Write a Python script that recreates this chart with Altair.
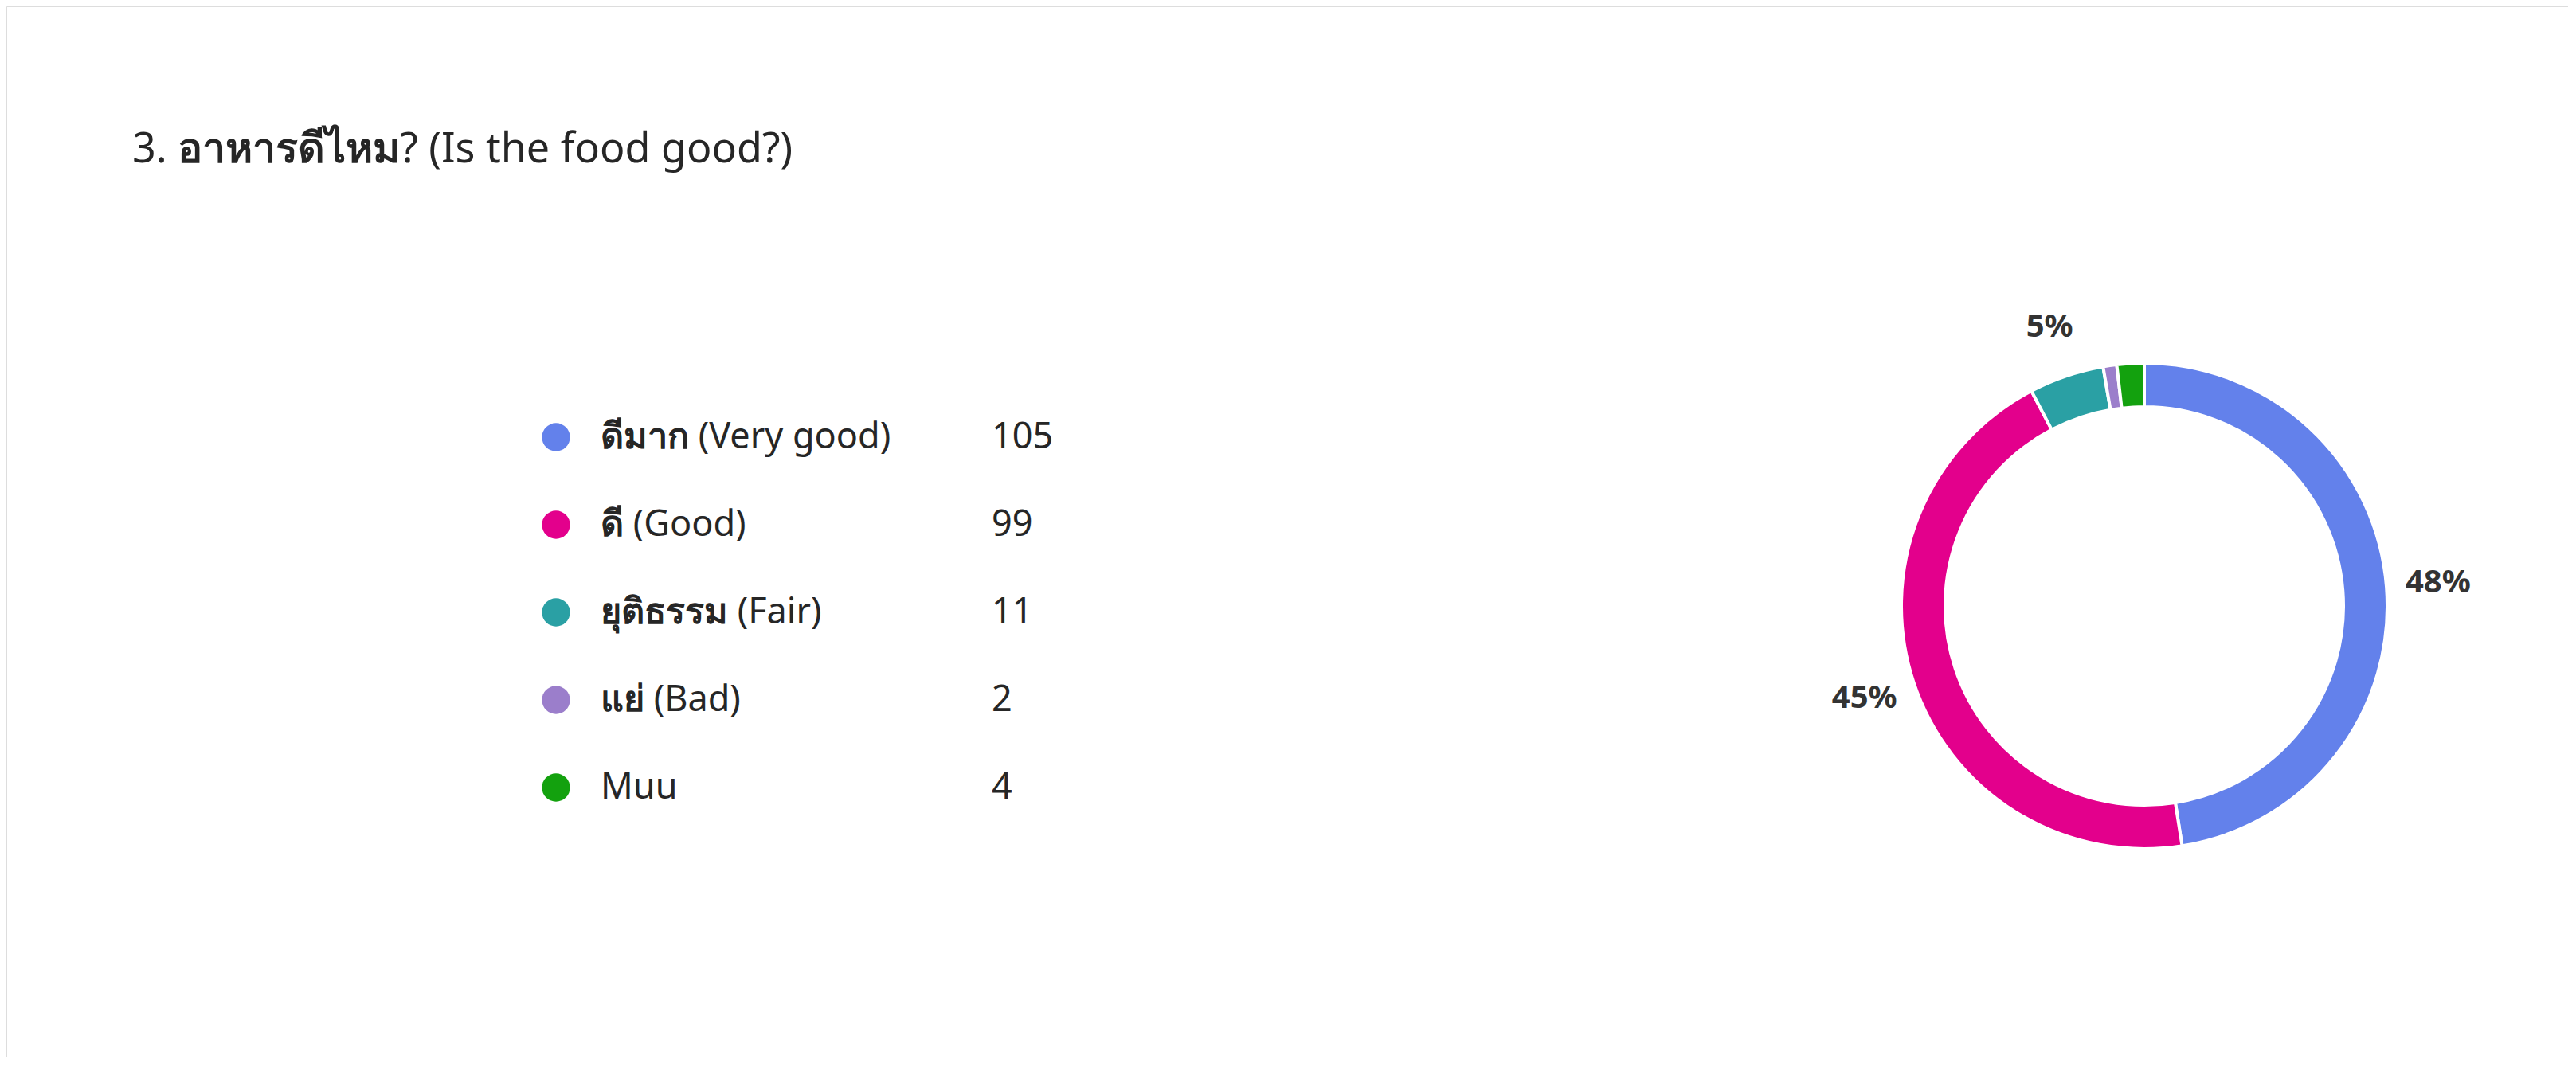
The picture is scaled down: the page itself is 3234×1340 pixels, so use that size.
import altair as alt
import pandas as pd

title_num = "3. "
title_thai = "อาหารดีไหม"
title_rest = "? (Is the food good?)"
thai_names = ["ดีมาก", "ดี", "ยุติธรรม", "แย่", ""]
en_names = ["(Very good)", "(Good)", "(Fair)", "(Bad)", "Muu"]
counts = [105, 99, 11, 2, 4]
colors = ["#6381EB", "#E3008C", "#2AA0A4", "#9B7ECB", "#13A10E"]

categories = [(t + " " + e).strip() for t, e in zip(thai_names, en_names)]
df = pd.DataFrame({
    "category": categories,
    "thai": thai_names,
    "count": counts,
    "order": list(range(len(categories))),
})

FONT = "Noto Sans"
TXT = "#262626"
W, H = 3216, 1320
CX, CY = 2684, 753
LEG_FS = 45
TITLE_FS = 52

color = alt.Color("category:N", scale=alt.Scale(domain=categories, range=colors), legend=None)
yscale = alt.Y("category:N", scale=alt.Scale(domain=categories, range=[541, 981], padding=0), axis=None)

base = alt.Chart(df)

donut = base.mark_arc(outerRadius=305, innerRadius=250, stroke="white", strokeWidth=4).encode(
    theta=alt.Theta("count:Q", stack=True),
    order=alt.Order("order:Q"),
    color=color,
    x=alt.value(CX),
    y=alt.value(CY),
)

pct = base.transform_joinaggregate(total="sum(count)").transform_calculate(
    label="datum.count / datum.total >= 0.04 ? format(datum.count / datum.total, '.0%') : ''"
).mark_text(radius=370, font=FONT, fontSize=40, fontWeight="bold", color="#333333",
            align="center", baseline="middle").encode(
    theta=alt.Theta("count:Q", stack=True),
    order=alt.Order("order:Q"),
    text="label:N",
    x=alt.value(CX),
    y=alt.value(CY),
)

dots = base.mark_circle(size=1250, opacity=1).encode(
    x=alt.value(690), y=yscale, color=color
)
labels = base.mark_text(align="left", baseline="middle", font=FONT, fontSize=LEG_FS, color=TXT).encode(
    x=alt.value(746), y=yscale, text="category:N"
)
labels_bold = base.mark_text(align="left", baseline="middle", font=FONT, fontSize=LEG_FS, color=TXT,
                             stroke=TXT, strokeWidth=1.3).encode(
    x=alt.value(746), y=yscale, text="thai:N"
)
values = base.mark_text(align="left", baseline="middle", font=FONT, fontSize=LEG_FS, color=TXT).encode(
    x=alt.value(1237), y=yscale, text="count:Q"
)

tdf = pd.DataFrame({"full": [title_num + title_thai + title_rest], "thai": [title_thai]})
TX, TY = 158, 180
title = alt.Chart(tdf).mark_text(
    align="left", baseline="middle", font=FONT, fontSize=TITLE_FS, color=TXT
).encode(x=alt.value(TX), y=alt.value(TY), text="full:N")
title_bold = alt.Chart(tdf).mark_text(
    align="left", baseline="middle", font=FONT, fontSize=TITLE_FS, color=TXT,
    stroke=TXT, strokeWidth=1.5
).encode(x=alt.value(TX + 1.1 * TITLE_FS), y=alt.value(TY), text="thai:N")

chart = alt.layer(donut, pct, dots, labels, labels_bold, values, title, title_bold).properties(
    width=W, height=H, padding=0,
    autosize=alt.AutoSizeParams(type="fit", contains="padding"),
).configure_view(stroke=None).configure(background="white")

chart.save("out.html", embed_options={"renderer": "svg", "actions": False})
